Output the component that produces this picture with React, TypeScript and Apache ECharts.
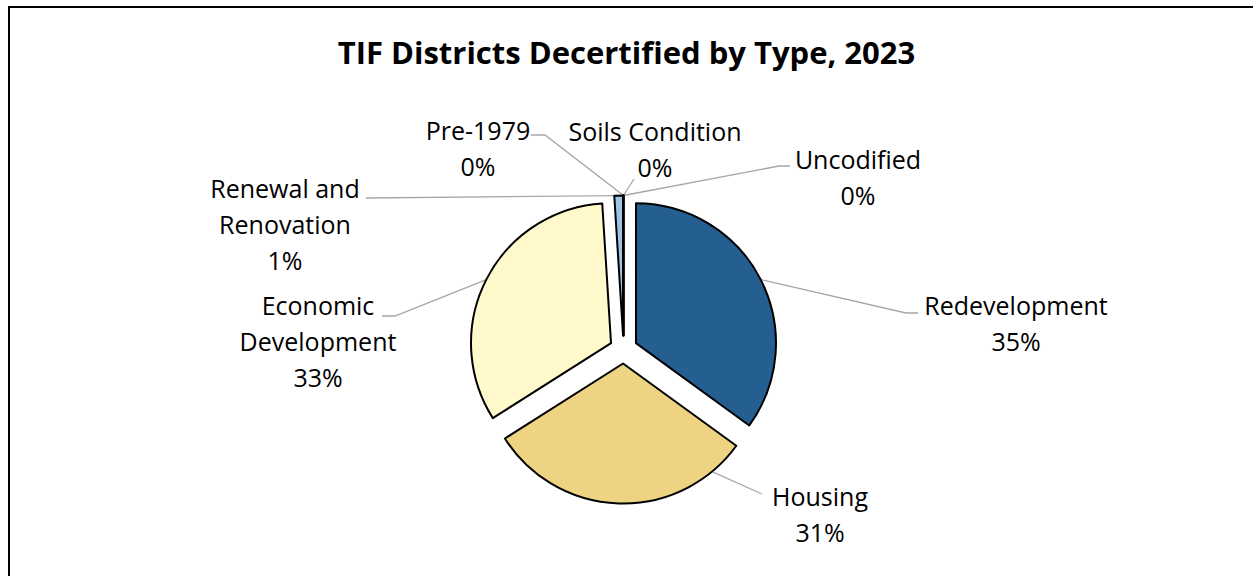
import React, { useEffect, useRef } from "react";
import * as echarts from "echarts";

const TITLE = "TIF Districts Decertified by Type, 2023";
const categories = [
  "Redevelopment",
  "Housing",
  "Economic Development",
  "Renewal and Renovation",
  "Pre-1979",
  "Soils Condition",
  "Uncodified",
];
const labelNames = [
  "Redevelopment",
  "Housing",
  "Economic\nDevelopment",
  "Renewal and\nRenovation",
  "Pre-1979",
  "Soils Condition",
  "Uncodified",
];
const values = [35, 31, 33, 1, 0, 0, 0];
const colors = ["#255E91", "#EDD382", "#FFF9CC", "#9DC3E6", "#1F4E79", "#C9A74A", "#7F7F7F"];

// layout (label placement and leader-line routing)
const CENTER: [number, number] = [623.5, 349.5];
const RADIUS = 140;
const EXPLODE = 14;
const FONT = "'Open Sans', 'Noto Sans', sans-serif";
const LABELS = [
  { x: 1016, top: 287, end: [918, 313], elbow: [906, 313], frac: 0.5 },
  { x: 820, top: 478, end: [762, 494], elbow: null, frac: 0.13 },
  { x: 318, top: 287, end: [382, 316], elbow: [395, 316], frac: 0.5 },
  { x: 285, top: 170, end: [366, 198], elbow: null, frac: 0.5 },
  { x: 478, top: 112, end: [531, 135], elbow: [545, 135], frac: 0.5 },
  { x: 655, top: 113, end: [634, 179], elbow: null, frac: 0.5 },
  { x: 858, top: 141, end: [790, 166], elbow: [779, 166], frac: 0.5 },
];

export default function App() {
  const ref = useRef<HTMLDivElement>(null);
  useEffect(() => {
    if (!ref.current) return;
    const chart = echarts.init(ref.current, null, { renderer: "svg" });
    const total = values.reduce((a, b) => a + b, 0);
    const starts: number[] = [];
    let acc = 0;
    values.forEach((v) => {
      starts.push(acc);
      acc += (v / total) * 360;
    });
    const rad = (d: number) => (d * Math.PI) / 180;

    // one series per slice, each shifted outward along its own bisector (exploded pie)
    const series = categories.map((_, k) => {
      const span = (values[k] / total) * 360;
      const mid = starts[k] + span / 2;
      const cx = CENTER[0] + EXPLODE * Math.sin(rad(mid));
      const cy = CENTER[1] - EXPLODE * Math.cos(rad(mid));
      const L = LABELS[k];
      return {
        type: "pie",
        name: categories[k],
        center: [cx, cy],
        radius: RADIUS,
        startAngle: 90,
        clockwise: true,
        avoidLabelOverlap: false,
        silent: true,
        emphasis: { disabled: true },
        label: {
          show: true,
          position: "outside",
          color: "#000",
          fontFamily: FONT,
          fontSize: 25,
          lineHeight: 36,
          align: "center",
          formatter: (p: any) => `${labelNames[p.dataIndex]}\n${Math.round(p.percent)}%`,
        },
        labelLine: {
          show: true,
          length: 10,
          length2: 10,
          lineStyle: { color: "#A6A6A6", width: 1.3 },
        },
        labelLayout: (p: any) => {
          if (p.dataIndex !== k) return {};
          const th = starts[k] + span * L.frac;
          const sp = [cx + RADIUS * Math.sin(rad(th)), cy - RADIUS * Math.cos(rad(th))];
          const pts = L.elbow ? [sp, L.elbow, L.end] : [sp, L.end];
          return {
            x: L.x,
            y: L.top,
            align: "center",
            verticalAlign: "top",
            labelLinePoints: pts,
          };
        },
        data: categories.map((c, i) =>
          i === k
            ? {
                name: c,
                value: values[i],
                itemStyle: { color: colors[i], borderColor: "#000", borderWidth: 2 },
              }
            : {
                name: c,
                value: values[i],
                itemStyle: { color: "rgba(0,0,0,0)", borderWidth: 0 },
                label: { show: false },
                labelLine: { show: false },
              }
        ),
      };
    });

    chart.setOption({
      animation: false,
      title: {
        text: TITLE,
        left: "center",
        top: 31,
        textStyle: { fontFamily: FONT, fontWeight: "bold", fontSize: 31, color: "#000" },
      },
      graphic: [
        {
          type: "rect",
          shape: { x: 9, y: 7, width: 1300, height: 620 },
          style: { fill: "none", stroke: "#000", lineWidth: 2 },
          silent: true,
        },
      ],
      series,
    });
    return () => chart.dispose();
  }, []);
  return (
    <div
      ref={ref}
      style={{ position: "absolute", left: 0, top: 0, width: 1253, height: 576, background: "#fff" }}
    />
  );
}
